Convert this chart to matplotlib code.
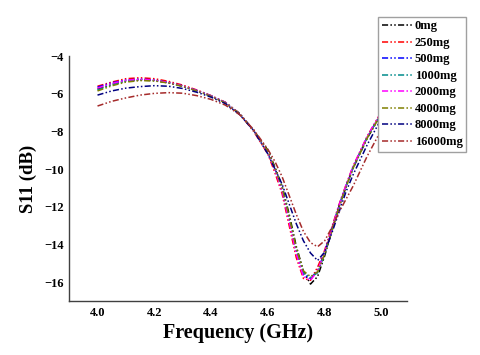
import matplotlib
matplotlib.use('Agg')
import matplotlib.pyplot as plt

plt.rcParams['font.family'] = ['Liberation Serif', 'DejaVu Serif']
plt.rcParams['font.weight'] = 'bold'

# --- Data ---
freq = [4.0, 4.05, 4.1, 4.15, 4.2, 4.25, 4.3, 4.35, 4.4, 4.45, 4.5, 4.55, 4.6,
        4.625, 4.65, 4.675, 4.7, 4.725, 4.75, 4.775, 4.8, 4.825, 4.85, 4.875,
        4.9, 4.95, 5.0, 5.05]

s11_0mg = [-5.75, -5.5, -5.33, -5.27, -5.3, -5.42, -5.6, -5.84, -6.12, -6.47, -7.05, -7.95, -9.0,
           -9.9, -10.9, -12.4, -14.1, -15.4, -16.1, -15.7, -14.6, -13.3, -12.0, -10.95,
           -9.95, -8.35, -7.05, -5.95]
s11_250mg = [-5.6, -5.38, -5.2, -5.15, -5.2, -5.34, -5.54, -5.8, -6.1, -6.45, -7.05, -8.0, -9.2,
             -10.2, -11.3, -13.0, -14.7, -15.8, -15.9, -15.2, -14.3, -13.1, -11.9, -10.85,
             -9.85, -8.25, -6.95, -5.85]
s11_500mg = [-5.65, -5.42, -5.27, -5.22, -5.27, -5.4, -5.58, -5.83, -6.11, -6.46, -7.05, -7.95, -9.1,
             -10.0, -11.1, -12.7, -14.4, -15.6, -15.8, -15.4, -14.4, -13.2, -11.95, -10.9,
             -9.9, -8.3, -7.0, -5.9]
s11_1000mg = [-5.8, -5.52, -5.33, -5.26, -5.29, -5.41, -5.6, -5.84, -6.12, -6.47, -7.05, -7.95, -9.1,
              -10.0, -11.0, -12.6, -14.3, -15.5, -15.75, -15.5, -14.5, -13.25, -12.0, -10.9,
              -9.9, -8.3, -7.0, -5.9]
s11_2000mg = [-5.7, -5.45, -5.28, -5.23, -5.28, -5.4, -5.59, -5.83, -6.11, -6.46, -7.05, -7.95, -9.1,
              -10.05, -11.15, -12.8, -14.5, -15.7, -15.9, -15.4, -14.4, -13.2, -11.95, -10.85,
              -9.85, -8.25, -6.95, -5.85]
s11_4000mg = [-5.85, -5.58, -5.38, -5.3, -5.32, -5.43, -5.61, -5.85, -6.13, -6.48, -7.05, -7.95, -9.05,
              -9.95, -11.0, -12.55, -14.2, -15.4, -15.7, -15.45, -14.5, -13.3, -12.05, -10.95,
              -9.95, -8.35, -7.05, -5.95]
s11_8000mg = [-6.07, -5.85, -5.7, -5.62, -5.57, -5.6, -5.72, -5.92, -6.18, -6.52, -7.1, -7.95, -9.2,
              -10.0, -10.8, -11.85, -12.9, -13.8, -14.45, -14.85, -14.4, -13.4, -12.3, -11.2,
              -10.3, -8.7, -7.3, -6.1]
s11_16000mg = [-6.65, -6.4, -6.22, -6.07, -5.98, -5.94, -5.97, -6.1, -6.3, -6.6, -7.1, -7.9, -8.95,
               -9.6, -10.4, -11.4, -12.4, -13.3, -13.9, -14.12, -13.8, -13.1, -12.3, -11.6,
               -10.9, -9.3, -7.9, -6.6]

labels = ['0mg', '250mg', '500mg', '1000mg', '2000mg', '4000mg', '8000mg', '16000mg']
series = [s11_0mg, s11_250mg, s11_500mg, s11_1000mg, s11_2000mg, s11_4000mg,
          s11_8000mg, s11_16000mg]
colors = ['#000000', '#ff0000', '#0000ff', '#008b8b', '#ff00ff', '#808000',
          '#000080', '#a52a2a']

DASH = (0, (4, 1.5, 1, 1.5, 1, 1.5))

fig = plt.figure(figsize=(4.8, 3.55), dpi=100, facecolor='white')
ax = fig.add_axes([0.144, 0.152, 0.704, 0.69])

for vals, lab, c in zip(series, labels, colors):
    ax.plot(freq, vals, color=c, lw=1.1, linestyle=DASH, label=lab)

ax.set_xlim(3.9, 5.09)
ax.set_ylim(-17, -4)
ax.set_xticks([4.0, 4.2, 4.4, 4.6, 4.8, 5.0])
ax.set_yticks([-4, -6, -8, -10, -12, -14, -16])
ax.tick_params(length=0, labelsize=9, pad=4)
for lab in ax.get_xticklabels() + ax.get_yticklabels():
    lab.set_fontweight('bold')

for side in ['top', 'right']:
    ax.spines[side].set_visible(False)
for side in ['left', 'bottom']:
    ax.spines[side].set_color('#404040')
    ax.spines[side].set_linewidth(1.0)

ax.set_xlabel('Frequency (GHz)', fontsize=14.5, fontweight='bold', labelpad=3)
ax.set_ylabel('S11 (dB)', fontsize=13.5, fontweight='bold', labelpad=5)

handles, labs = ax.get_legend_handles_labels()
leg = fig.legend(handles, labs, loc='upper left', bbox_to_anchor=(0.787, 0.953),
                 prop={'family': 'Liberation Serif', 'weight': 'bold', 'size': 9},
                 frameon=True, fancybox=False, framealpha=1, edgecolor='#a0a0a0',
                 handlelength=2.4, handletextpad=0.25, labelspacing=0.36,
                 borderpad=0.3, borderaxespad=0)
leg.get_frame().set_linewidth(1.0)

fig.savefig('out.png', dpi=100, facecolor='white')
